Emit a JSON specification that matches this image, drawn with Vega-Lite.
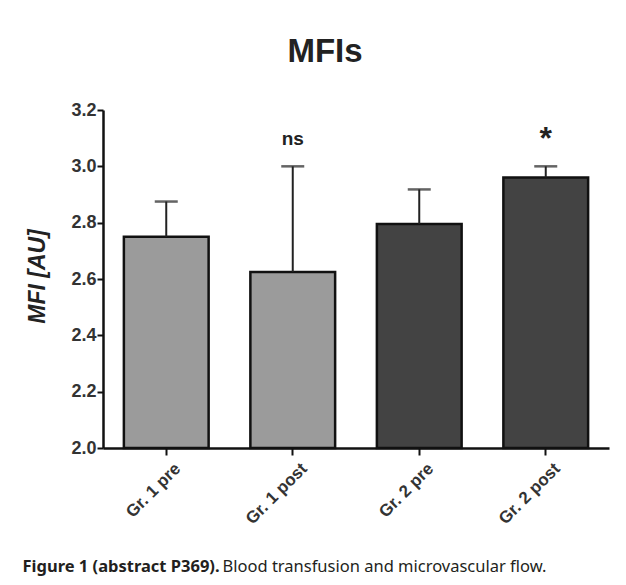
{
  "$schema": "https://vega.github.io/schema/vega-lite/v6.json",
  "width": 506,
  "height": 338,
  "autosize": {"type": "none"},
  "padding": {"left": 103, "top": 110, "right": 17, "bottom": 137},
  "background": "white",
  "title": {
    "text": "MFIs",
    "font": "Liberation Sans",
    "fontSize": 33,
    "fontWeight": "bold",
    "color": "#222222",
    "anchor": "middle",
    "frame": "group",
    "dx": -31,
    "dy": 33,
    "baseline": "alphabetic",
    "offset": 39
  },
  "config": {
    "view": {"stroke": null},
    "axis": {"grid": false}
  },
  "data": {
    "values": [
      {"group": "Gr. 1 pre", "kind": "Gr. 1", "mean": 2.75, "upper": 2.875, "sig": ""},
      {"group": "Gr. 1 post", "kind": "Gr. 1", "mean": 2.625, "upper": 3.0, "sig": "ns"},
      {"group": "Gr. 2 pre", "kind": "Gr. 2", "mean": 2.795, "upper": 2.918, "sig": ""},
      {"group": "Gr. 2 post", "kind": "Gr. 2", "mean": 2.96, "upper": 3.0, "sig": "*"}
    ]
  },
  "resolve": {"axis": {"x": "independent"}},
  "layer": [
    {
      "mark": {"type": "bar", "stroke": "#111111", "strokeWidth": 2.5},
      "encoding": {
        "x": {
          "field": "group", "type": "nominal",
          "sort": ["Gr. 1 pre", "Gr. 1 post", "Gr. 2 pre", "Gr. 2 post"],
          "scale": {"paddingInner": 0.33, "paddingOuter": 0.165},
          "axis": {
            "orient": "bottom",
            "labelAngle": -45,
            "labelFont": "Liberation Sans",
            "labelFontSize": 17,
            "labelFontWeight": "bold",
            "labelColor": "#333333",
            "labelPadding": 5,
            "labelOffset": 6,
            "domainColor": "#111111",
            "domainWidth": 2.5,
            "tickColor": "#111111",
            "tickWidth": 2,
            "tickSize": 7,
            "title": "Figure 1 (abstract P369).",
            "titleFont": "Noto Sans",
            "titleFontSize": 16.5,
            "titleFontWeight": "bold",
            "titleColor": "#231f20",
            "titleAlign": "left",
            "titleBaseline": "alphabetic",
            "titleAngle": 0,
            "titleX": -81,
            "titleY": 123
          }
        },
        "y": {
          "field": "mean", "type": "quantitative",
          "scale": {"domain": [2.0, 3.2], "zero": false, "nice": false},
          "axis": {
            "title": "MFI [AU]",
            "values": [2.0, 2.2, 2.4, 2.6, 2.8, 3.0, 3.2],
            "format": ".1f",
            "labelFont": "Liberation Sans",
            "labelFontSize": 18,
            "labelFontWeight": "bold",
            "labelColor": "#333333",
            "labelPadding": 1,
            "domainColor": "#111111",
            "domainWidth": 2.5,
            "tickColor": "#111111",
            "tickWidth": 2,
            "tickSize": 6,
            "titleFont": "Liberation Sans",
            "titleFontSize": 23,
            "titleFontWeight": "bold",
            "titleFontStyle": "italic",
            "titleColor": "#222222",
            "titleAngle": -90,
            "titleAlign": "center",
            "titleBaseline": "middle",
            "titleX": -66,
            "titleY": 166
          }
        },
        "y2": {"datum": 2.0},
        "color": {
          "field": "kind", "type": "nominal",
          "scale": {"domain": ["Gr. 1", "Gr. 2"], "range": ["#9b9b9b", "#434343"]},
          "legend": null
        }
      }
    },
    {
      "mark": {"type": "rule", "color": "#222222", "strokeWidth": 2},
      "encoding": {
        "x": {"field": "group", "type": "nominal", "sort": ["Gr. 1 pre", "Gr. 1 post", "Gr. 2 pre", "Gr. 2 post"], "axis": null},
        "y": {"field": "mean", "type": "quantitative", "title": "MFI [AU]"},
        "y2": {"field": "upper"}
      }
    },
    {
      "mark": {"type": "tick", "color": "#222222", "thickness": 2.5, "size": 23},
      "encoding": {
        "x": {"field": "group", "type": "nominal", "sort": ["Gr. 1 pre", "Gr. 1 post", "Gr. 2 pre", "Gr. 2 post"], "axis": null},
        "y": {"field": "upper", "type": "quantitative", "title": "MFI [AU]"}
      }
    },
    {
      "mark": {"type": "text", "font": "Liberation Sans", "fontWeight": "bold", "color": "#222222", "dy": -27, "baseline": "middle"},
      "encoding": {
        "x": {
          "field": "group", "type": "nominal",
          "sort": ["Gr. 1 pre", "Gr. 1 post", "Gr. 2 pre", "Gr. 2 post"],
          "axis": {
            "orient": "bottom",
            "labels": false,
            "ticks": false,
            "domain": false,
            "title": "Blood transfusion and microvascular flow.",
            "titleFont": "Noto Sans",
            "titleFontSize": 16.5,
            "titleFontWeight": "normal",
            "titleColor": "#231f20",
            "titleAlign": "left",
            "titleBaseline": "alphabetic",
            "titleAngle": 0,
            "titleX": 119,
            "titleY": 123
          }
        },
        "y": {"field": "upper", "type": "quantitative", "title": "MFI [AU]"},
        "text": {"field": "sig"},
        "size": {"condition": {"test": "datum.sig === '*'", "value": 32}, "value": 19}
      }
    }
  ]
}
